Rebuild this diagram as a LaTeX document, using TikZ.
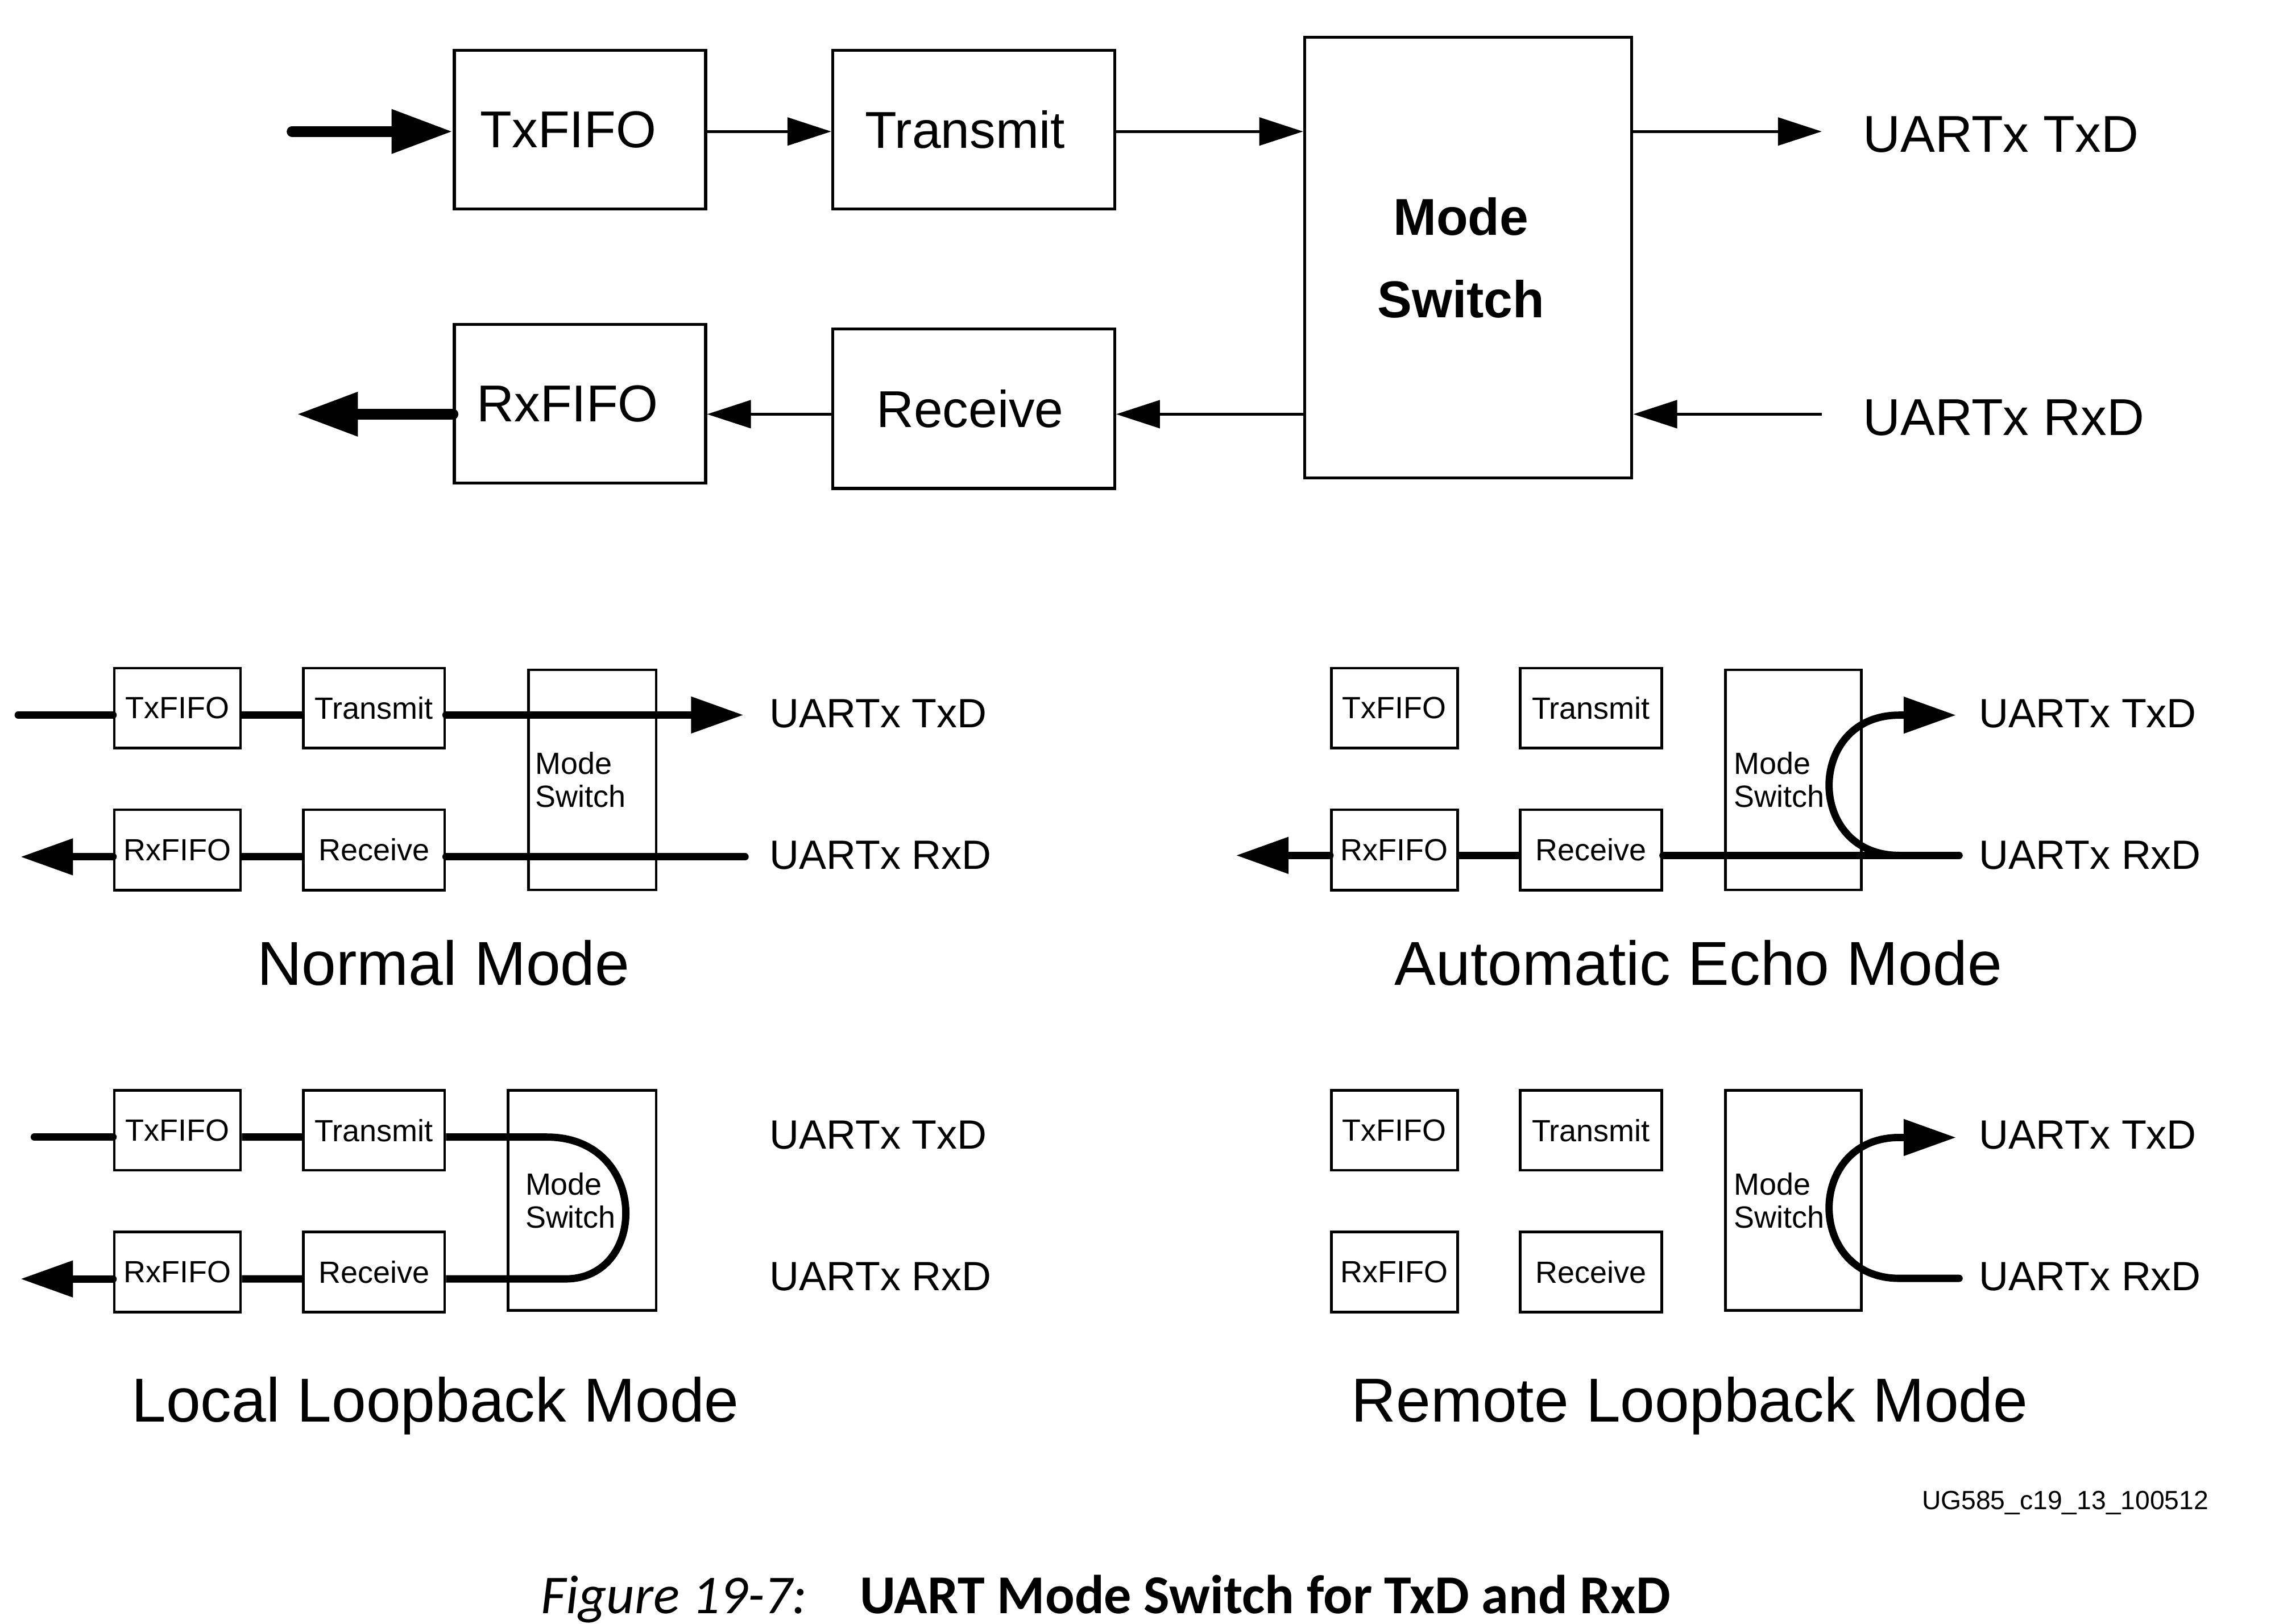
\documentclass[tikz,border=0pt]{standalone}
\usepackage{fontspec}
\setmainfont{Liberation Sans}
\newfontfamily\capfont{Carlito}
\usetikzlibrary{arrows.meta,positioning}

\tikzset{
  blk/.style={draw, line width=2pt, inner sep=0pt, font=\fontsize{35.5}{56.4}\selectfont},
  sblk/.style={draw, line width=1.8pt, inner sep=0pt, font=\fontsize{21}{22.5}\selectfont},
  mswtext/.style={align=left, inner sep=0pt, font=\fontsize{21}{22.5}\selectfont},
  sig/.style={line width=2pt, -{Triangle[length=30pt,width=19pt]}},
  bus/.style={line width=7.5pt, line cap=round, -{Triangle[length=42pt,width=28.5pt]}},
  wire/.style={line width=5pt, line cap=round},
  wirearr/.style={wire, -{Triangle[length=36pt,width=24pt]}},
  pinbig/.style={anchor=base west, inner sep=0pt, font=\fontsize{35.5}{40}\selectfont},
  pin/.style={anchor=base west, inner sep=0pt, font=\fontsize{28}{32}\selectfont},
  title/.style={anchor=base, inner sep=0pt, font=\fontsize{42.5}{48}\selectfont},
}

\begin{document}
\begin{tikzpicture}[x=1pt, y=-1pt]
    \useasboundingbox (0,0) rectangle (1560,1111.6);
    % main blocks
    \node[blk, minimum width=172pt, minimum height=108.6pt] (txf) at (397,88.7) {TxFIFO\kern16pt};
    \node[blk, minimum width=193pt, minimum height=108.6pt] (trm) at (666.5,88.7) {Transmit\kern12pt};
    \node[blk, minimum width=172pt, minimum height=108.7pt] (rxf) at (397,276.4) {RxFIFO\kern17pt};
    \node[blk, minimum width=193pt, minimum height=109.1pt] (rcv) at (666.5,279.8) {Receive\kern5pt};
    \node[blk, minimum width=224pt, minimum height=301.6pt, align=center, font=\fontsize{35.5}{56.4}\selectfont\bfseries] (msw) at (1005,176.4) {Mode\kern10pt\\Switch\kern10pt};
    \node[pinbig] (txd) at (1275,104.3) {UARTx TxD};
    \node[pinbig] (rxd) at (1275,298) {UARTx RxD};
    % main signals
    \coordinate (txin) at (200,90);
    \coordinate (txend) at (1247,90);
    \coordinate (rxin) at (1247,283.5);
    \coordinate (rxout) at (203,283.5);
    \draw[bus] (txin) -- (txin -| txf.west);
    \draw[sig] (txf.east |- txin) -- (trm.west |- txin);
    \draw[sig] (trm.east |- txin) -- (msw.west |- txin);
    \draw[sig] (msw.east |- txin) -- (txend);
    \draw[sig] (rxin) -- (msw.east |- rxin);
    \draw[sig] (msw.west |- rxin) -- (rcv.east |- rxin);
    \draw[sig] (rcv.west |- rxin) -- (rxf.east |- rxin);
    \draw[bus] (rxf.west |- rxin) -- (rxout);
    % small blocks of the four modes
    \foreach \p/\dx/\dy in {n/0/0, e/833/0, l/0/289, r/833/289}{
      \begin{scope}[shift={(\dx,\dy)}]
        \node[sblk, minimum width=86.4pt, minimum height=54.7pt] (\p txf) at (121.5,484.7) {TxFIFO};
        \node[sblk, minimum width=96.8pt, minimum height=54.7pt] (\p trm) at (256,484.7) {Transmit};
        \node[sblk, minimum width=86.4pt, minimum height=55pt] (\p rxf) at (121.5,581.7) {RxFIFO};
        \node[sblk, minimum width=96.8pt, minimum height=55pt] (\p rcv) at (256,581.7) {Receive};
      \end{scope}
    }
    \foreach \p/\x/\y/\w/\d in {n/405.5/533.8/87.3/5.2, e/1227.5/533.8/93/6.8, l/398.5/821.6/101.3/12.5, r/1227.5/821.6/93/6.8}{
      \node[sblk, minimum width=\w pt, minimum height=150.7pt] (\p msw) at (\x,\y) {};
      \node[mswtext, right=\d pt of \p msw.west] (\p mswlbl) {Mode\\Switch};
    }
    \foreach \p/\x/\y in {n/526.6/0, e/1354.5/0, l/526.6/288.4, r/1354.5/288.4}{
      \node[pin] (\p txd) at (\x,498+\y) {UARTx TxD};
      \node[pin] (\p rxd) at (\x,594.8+\y) {UARTx RxD};
    }
    % normal mode
    \coordinate (nin) at (12.5,489.4);
    \coordinate (ntip) at (509,489.4);
    \coordinate (nrx) at (510,586.5);
    \coordinate (nout) at (14,586.5);
    \draw[wire] (nin) -- (nin -| ntxf.west);
    \draw[wire, line cap=butt] (ntxf.east |- nin) -- (ntrm.west |- nin);
    \draw[wirearr] (ntrm.east |- nin) -- (ntip);
    \draw[wire] (nrx) -- (nrcv.east |- nrx);
    \draw[wire, line cap=butt] (nrcv.west |- nrx) -- (nrxf.east |- nrx);
    \draw[wirearr] (nrxf.west |- nrx) -- (nout);
    % automatic echo mode
    \coordinate (erx) at (1341,585.5);
    \coordinate (ejoin) at (1300,585.5);
    \coordinate (etop) at (1300,489.5);
    \coordinate (etip) at (1339,489.5);
    \coordinate (eout) at (846,585.5);
    \draw[wire] (erx) -- (ercv.east |- erx);
    \draw[wire, line cap=butt] (ercv.west |- erx) -- (erxf.east |- erx);
    \draw[wirearr] (erxf.west |- erx) -- (eout);
    \draw[wirearr] (ejoin) .. controls +(-64,0) and +(-64,0) .. (etop) -- (etip);
    % local loopback mode
    \coordinate (lin) at (23.5,778.3);
    \coordinate (lbend) at (374.3,778.3);
    \coordinate (lback) at (387,875.4);
    \coordinate (lout) at (14,875.4);
    \draw[wire] (lin) -- (lin -| ltxf.west);
    \draw[wire, line cap=butt] (ltxf.east |- lin) -- (ltrm.west |- lin)
      (ltrm.east |- lin) -- (lbend) .. controls +(70,0) and +(57,0) .. (lback) -- (lrcv.east |- lback)
      (lrcv.west |- lback) -- (lrxf.east |- lback);
    \draw[wirearr] (lrxf.west |- lback) -- (lout);
    % remote loopback mode
    \coordinate (rrx) at (1341,875);
    \coordinate (rjoin) at (1300,875);
    \coordinate (rtop) at (1300,778.6);
    \coordinate (rtip) at (1339,778.6);
    \draw[wirearr] (rrx) -- (rjoin) .. controls +(-64,0) and +(-64,0) .. (rtop) -- (rtip);
    % titles
    \node[title] (ntitle) at (303.5,674.2) {Normal Mode};
    \node[title] (etitle) at (1162.6,674.2) {Automatic Echo Mode};
    \node[title] (ltitle) at (298,973.2) {Local Loopback Mode};
    \node[title] (rtitle) at (1156.6,973.2) {Remote Loopback Mode};
    \node[anchor=base east, inner sep=0pt, font=\fontsize{18}{20}\selectfont] (tag) at (1512,1033) {UG585\_c19\_13\_100512};
    % caption
    \node[anchor=base west, inner sep=0pt, font=\capfont\fontsize{37.5}{40}\selectfont\itshape] (capnum) at (370,1104.4) {Figure 19-7:};
    \node[anchor=base west, inner sep=0pt, font=\capfont\fontsize{37.5}{40}\selectfont\bfseries] (captext) at (588.5,1104.4) {UART Mode Switch for TxD and RxD};
\end{tikzpicture}
\end{document}
